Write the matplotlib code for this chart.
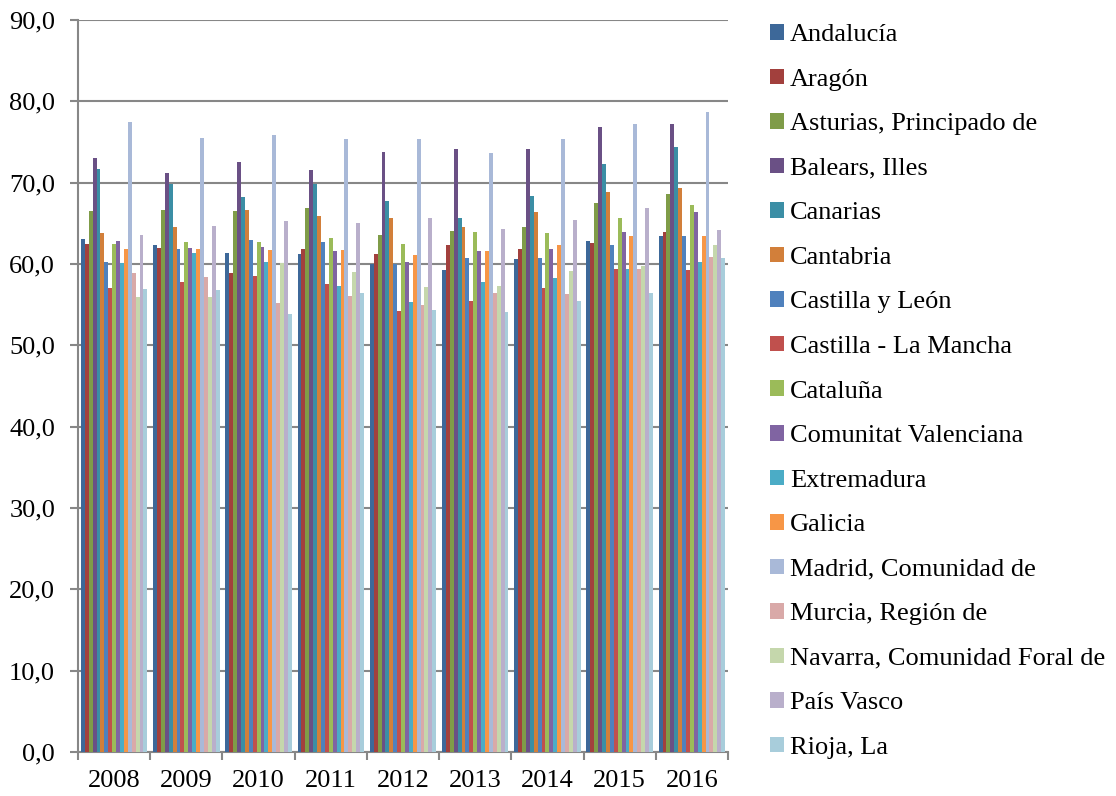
import numpy as np
import matplotlib.pyplot as plt
from matplotlib.ticker import FuncFormatter

years = ['2008', '2009', '2010', '2011', '2012', '2013', '2014', '2015', '2016']

regions = ['Andalucía', 'Aragón', 'Asturias, Principado de', 'Balears, Illes',
           'Canarias', 'Cantabria', 'Castilla y León', 'Castilla - La Mancha',
           'Cataluña', 'Comunitat Valenciana', 'Extremadura', 'Galicia',
           'Madrid, Comunidad de', 'Murcia, Región de',
           'Navarra, Comunidad Foral de', 'País Vasco', 'Rioja, La']

# one row per year, one column per region
values_2008 = [63.1, 62.4, 66.5, 73.0, 71.7, 63.8, 60.2, 57.0, 62.5, 62.8, 60.1, 61.9, 77.4, 58.9, 55.9, 63.6, 56.9]
values_2009 = [62.3, 62.0, 66.7, 71.2, 69.8, 64.5, 61.9, 57.8, 62.7, 62.0, 61.3, 61.8, 75.5, 58.4, 55.9, 64.7, 56.8]
values_2010 = [61.4, 58.9, 66.5, 72.5, 68.2, 66.7, 63.0, 58.5, 62.7, 62.1, 60.3, 61.7, 75.8, 55.2, 60.1, 65.3, 53.8]
values_2011 = [61.2, 61.8, 66.9, 71.6, 69.8, 65.9, 62.7, 57.5, 63.2, 61.6, 57.3, 61.7, 75.4, 56.1, 59.0, 65.1, 56.4]
values_2012 = [60.0, 61.2, 63.6, 73.8, 67.7, 65.7, 60.0, 54.2, 62.5, 60.3, 55.3, 61.1, 75.4, 55.0, 57.2, 65.6, 54.3]
values_2013 = [59.3, 62.3, 64.1, 74.2, 65.6, 64.6, 60.7, 55.5, 63.9, 61.6, 57.8, 61.6, 73.6, 56.4, 57.3, 64.3, 54.1]
values_2014 = [60.6, 61.8, 64.5, 74.1, 68.4, 66.4, 60.7, 57.0, 63.8, 61.9, 58.3, 62.3, 75.4, 56.3, 59.1, 65.4, 55.4]
values_2015 = [62.8, 62.6, 67.5, 76.9, 72.3, 68.9, 62.3, 59.4, 65.6, 63.9, 59.4, 63.4, 77.2, 59.4, 59.8, 66.9, 56.4]
values_2016 = [63.5, 63.9, 68.6, 77.2, 74.4, 69.3, 63.4, 59.3, 67.2, 66.4, 60.2, 63.4, 78.7, 60.9, 62.3, 64.2, 60.7]

colors = ['#3D6899', '#A2403D', '#7F9C48', '#6A5085', '#3B8EA5', '#D27F3A',
          '#4F81BD', '#C0504D', '#9BBB59', '#8064A2', '#4BACC6', '#F79646',
          '#A9B9D8', '#D9A9A8', '#C5D7AC', '#B9AFCB', '#A8CDDB']

data = np.array([values_2008, values_2009, values_2010, values_2011, values_2012,
                 values_2013, values_2014, values_2015, values_2016])

plt.rcParams['font.family'] = ['Liberation Serif', 'DejaVu Serif']
FS = 19

fig = plt.figure(figsize=(11.16, 7.96), dpi=100)
ax = fig.add_axes([78 / 1116, 44 / 796, 650 / 1116, 732 / 796])

n = len(regions)
x = np.arange(len(years))
group_w = 0.92
bar_w = group_w / n
for i, region in enumerate(regions):
    ax.bar(x - group_w / 2 + bar_w * (i + 0.5), data[:, i], width=bar_w,
           color=colors[i], label=region, zorder=3, linewidth=0)

ax.set_xlim(-0.5, len(years) - 0.5)
ax.set_ylim(0, 90)
ax.set_yticks(np.arange(0, 91, 10))
ax.yaxis.set_major_formatter(FuncFormatter(lambda v, p: f'{v:.1f}'.replace('.', ',')))
ax.yaxis.grid(True, color='#878787', linewidth=1.5, zorder=0)

# year labels centred, tick marks on category boundaries
ax.set_xticks(np.arange(-0.5, len(years), 1.0))
ax.set_xticklabels([])
ax.set_xticks(x, minor=True)
ax.set_xticklabels(years, minor=True)
ax.tick_params(axis='x', which='minor', length=0, labelsize=FS, pad=13)
ax.tick_params(axis='x', which='major', length=6, color='#878787', width=1.5)
ax.tick_params(axis='y', length=6, color='#878787', width=1.5, labelsize=FS, pad=10.5)

for side in ['top', 'right']:
    ax.spines[side].set_visible(False)
for side in ['left', 'bottom']:
    ax.spines[side].set_color('#878787')
    ax.spines[side].set_linewidth(1.5)

fig.legend(loc='upper left', bbox_to_anchor=(770 / 1116, 1 - 24 / 796),
           frameon=False, fontsize=FS, handlelength=0.53, handleheight=0.53,
           handletextpad=0.23, labelspacing=0.85, borderaxespad=0, borderpad=0)

fig.savefig('out.png', dpi=100)
